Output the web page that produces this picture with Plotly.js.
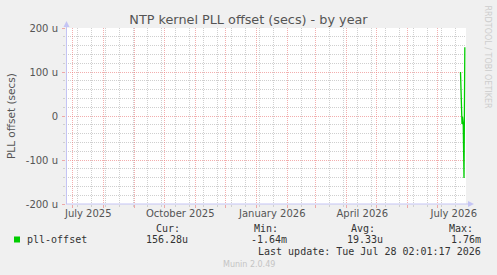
<!DOCTYPE html>
<html>
<head>
<meta charset="utf-8">
<script src="https://cdn.plot.ly/plotly-3.0.1.min.js"></script>
<style>
  html, body { margin: 0; padding: 0; background: #F0F0F0; }
  #chart { width: 497px; height: 275px; }
</style>
</head>
<body>
<div id="chart"></div>
<script>
// PLL offset samples (microseconds)
const sampleTimes = ['2026-07-23 18:00', '2026-07-25 06:00', '2026-07-25 18:00', '2026-07-26 12:00', '2026-07-27 06:00', '2026-07-28 02:01'];
const offsetMicro = [100, -18, -2, -20, -141, 156.28];

// Axis ticks
const yTickVals = [-200, -100, 0, 100, 200];
const yTickText = ['-200 u', '-100 u', '0', '100 u', '200 u'];
const xLabelVals = ['2025-07-16 12:00', '2025-10-16 12:00', '2026-01-16 12:00', '2026-04-16 12:00', '2026-07-17 00:00'];
const xLabelText = ['July 2025', 'October 2025', 'January 2026', 'April 2026', 'July 2026'];

// Legend table
const seriesName = 'pll-offset';
const statLabels = ['Cur:', 'Min:', 'Avg:', 'Max:'];
const statValues = ['156.28u', '-1.64m', '19.33u', '1.76m'];
const lastUpdate = 'Last update: Tue Jul 28 02:01:17 2026';

const W = 497, H = 275;
const M = { l: 66, r: 31, t: 28, b: 71 };
const PW = W - M.l - M.r, PH = H - M.t - M.b;
const px = x => (x - M.l) / PW;
const py = y => (H - M.b - y) / PH;

const xRange = ['2025-06-24 06:00', '2026-07-29 06:00'];
const GREEN = '#00CC00';
const AXIS = '#C4C4F4';
const MAJOR = 'rgba(235,120,120,0.6)';
const MINOR = '#CFCFCF';
const TXT = '#555555';
const MONO = '"DejaVu Sans Mono", monospace';
const SANS = '"DejaVu Sans", sans-serif';

// minor horizontal grid every 20 u, skipping the major lines
const yMinorVals = [];
for (let v = -180; v < 200; v += 20) if (v % 100 !== 0) yMinorVals.push(v);

const trace = {
  type: 'scatter', mode: 'lines',
  x: sampleTimes, y: offsetMicro,
  line: { color: GREEN, width: 1.3 },
  hoverinfo: 'skip', showlegend: false
};
// invisible trace carrying the date labels axis
const labelTrace = {
  type: 'scatter', mode: 'lines', x: xRange, y: [0, 0], xaxis: 'x2',
  line: { width: 0 }, hoverinfo: 'skip', showlegend: false
};

const annotations = [];
function txt(x, y, text, opts) {
  annotations.push(Object.assign({
    xref: 'paper', yref: 'paper', x: px(x), y: py(y), text: text,
    showarrow: false, xanchor: 'left', yanchor: 'middle',
    font: { family: MONO, size: 10, color: '#333333' }
  }, opts || {}));
}

txt(11, 116, 'PLL offset (secs)', { xanchor: 'center', textangle: -90, font: { family: SANS, size: 10.5, color: TXT } });
txt(487.5, 57, 'RRDTOOL / TOBI OETIKER', { xanchor: 'center', textangle: 90, font: { family: SANS, size: 8, color: '#CDCDCD' } });

txt(25, 239.5, seriesName);
const labelLeft = [154, 251.5, 349, 446.5];
const valueRight = [189.5, 288.5, 384.5, 483];
statLabels.forEach((s, i) => txt(labelLeft[i], 228.5, s));
statValues.forEach((s, i) => txt(valueRight[i], 239.5, s, { xanchor: 'right' }));
txt(483, 251.5, lastUpdate, { xanchor: 'right' });
txt(249, 264.5, 'Munin 2.0.49', { xanchor: 'center', font: { family: SANS, size: 8, color: '#C4C4C4' } });

const shapes = [
  // legend swatch
  { type: 'rect', xref: 'paper', yref: 'paper', x0: px(14), x1: px(20), y0: py(236.5), y1: py(242.5), fillcolor: GREEN, line: { width: 0 } },
  // y axis line and arrow
  { type: 'line', xref: 'paper', yref: 'paper', x0: px(66.5), x1: px(66.5), y0: 0, y1: py(25), line: { color: AXIS, width: 1 } },
  { type: 'path', xref: 'paper', yref: 'paper',
    path: `M ${px(63.5)} ${py(27)} L ${px(69.5)} ${py(27)} L ${px(66.5)} ${py(21)} Z`,
    fillcolor: AXIS, line: { width: 0 } },
  // x axis line and arrow
  { type: 'line', xref: 'paper', yref: 'paper', x0: px(66), x1: px(470), y0: 0, y1: 0, line: { color: AXIS, width: 1 } },
  { type: 'path', xref: 'paper', yref: 'paper',
    path: `M ${px(468)} ${py(201)} L ${px(468)} ${py(207)} L ${px(474)} ${py(204)} Z`,
    fillcolor: AXIS, line: { width: 0 } }
];

const layout = {
  width: W, height: H,
  margin: M,
  paper_bgcolor: '#F0F0F0',
  plot_bgcolor: '#FFFFFF',
  title: {
    text: 'NTP kernel PLL offset (secs) - by year',
    font: { family: SANS, size: 12.8, color: TXT },
    x: 0.5, xref: 'container', xanchor: 'center',
    y: 1 - 20 / H, yref: 'container', yanchor: 'middle'
  },
  xaxis: {
    type: 'date', range: xRange,
    tickmode: 'linear', tick0: '2025-07-01', dtick: 'M1',
    showticklabels: false,
    ticks: 'outside', ticklen: 3, tickcolor: MAJOR, tickwidth: 1,
    showgrid: true, gridcolor: MAJOR, griddash: '1px,1px', gridwidth: 1,
    minor: {
      tickmode: 'linear', tick0: '2025-11-09', dtick: 14 * 86400000,
      showgrid: true, gridcolor: MINOR, griddash: '1px,1px', gridwidth: 1,
      ticks: 'outside', ticklen: 2, tickcolor: MINOR
    },
    showline: false, zeroline: false, fixedrange: true
  },
  xaxis2: {
    type: 'date', range: xRange, overlaying: 'x', anchor: 'y', side: 'bottom',
    tickmode: 'array', tickvals: xLabelVals, ticktext: xLabelText,
    ticks: '', showgrid: false, zeroline: false, showline: false,
    tickfont: { family: SANS, size: 10, color: TXT },
    ticklabelstandoff: 2
  },
  yaxis: {
    range: [-200, 200],
    tickmode: 'array', tickvals: yTickVals, ticktext: yTickText,
    tickfont: { family: SANS, size: 10, color: TXT },
    ticks: 'outside', ticklen: 3, tickcolor: MAJOR, tickwidth: 1,
    ticklabelstandoff: 2,
    showgrid: true, gridcolor: MAJOR, griddash: '1px,1px', gridwidth: 1,
    minor: {
      tickmode: 'array', tickvals: yMinorVals,
      showgrid: true, gridcolor: MINOR, griddash: '1px,1px', gridwidth: 1,
      ticks: 'outside', ticklen: 2, tickcolor: MINOR
    },
    zeroline: false, showline: false, fixedrange: true
  },
  showlegend: false,
  annotations: annotations,
  shapes: shapes
};

Plotly.newPlot('chart', [labelTrace, trace], layout, { staticPlot: true, displayModeBar: false });
</script>
</body>
</html>
